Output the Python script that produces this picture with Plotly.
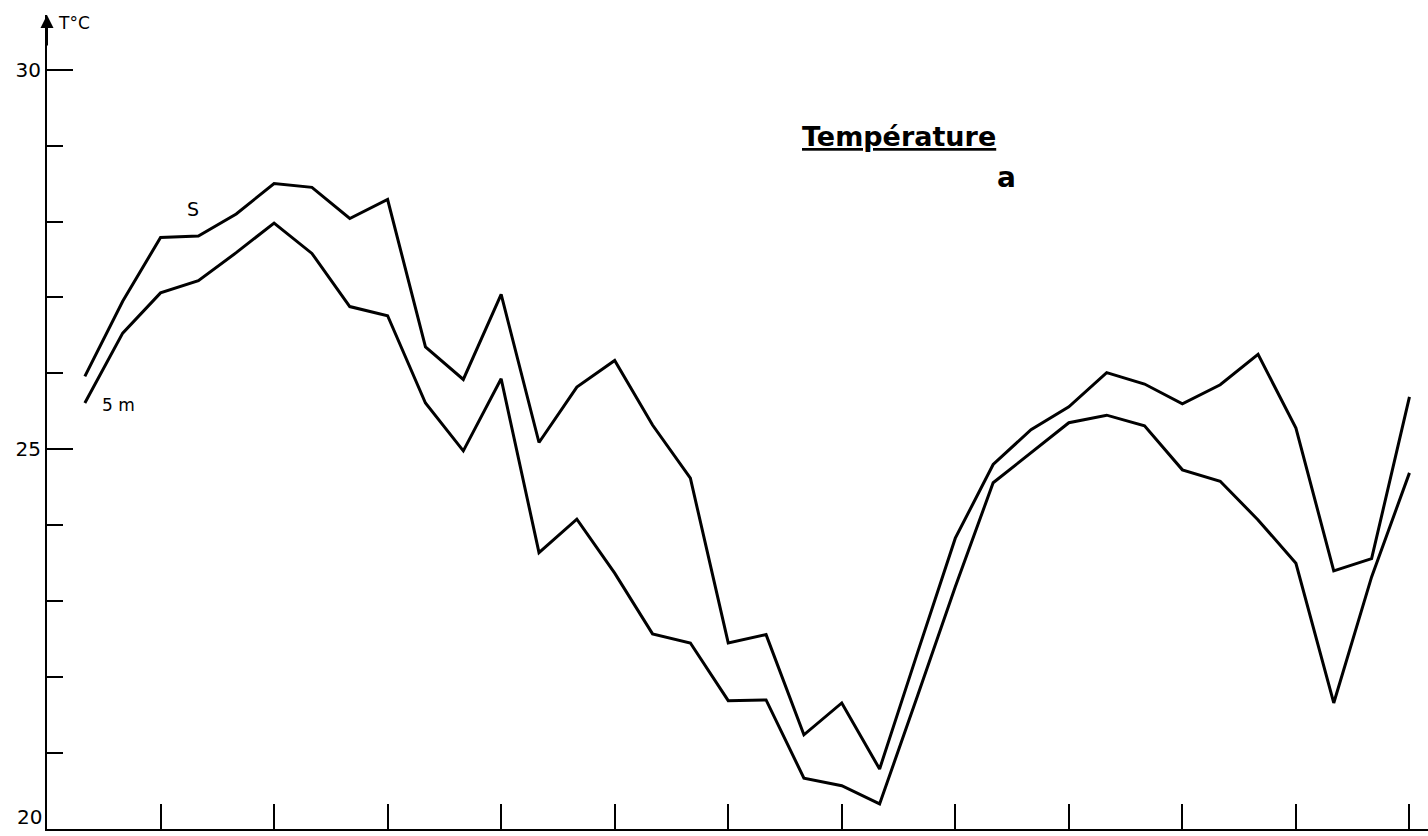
import plotly.graph_objects as go

# Sample index (x positions, 1..36) and temperatures (°C)
idx = list(range(1, 37))
temp_surface = [25.96, 26.95, 27.79, 27.81, 28.10, 28.50, 28.45, 28.04, 28.29, 26.35,
                25.92, 27.04, 25.09, 25.82, 26.17, 25.32, 24.62, 22.45, 22.56, 21.24,
                21.66, 20.79, 22.32, 23.83, 24.80, 25.26, 25.56, 26.01, 25.86, 25.60,
                25.85, 26.25, 25.28, 23.40, 23.56, 25.69]
temp_5m = [25.61, 26.53, 27.06, 27.22, 27.59, 27.98, 27.58, 26.88, 26.76, 25.61,
           24.98, 25.93, 23.64, 24.08, 23.37, 22.57, 22.45, 21.69, 21.70, 20.67,
           20.57, 20.33, 21.75, 23.19, 24.56, 24.95, 25.35, 25.45, 25.31, 24.73,
           24.58, 24.07, 23.50, 21.66, 23.32, 24.69]
x_ticks = list(range(3, 37, 3))
y_major = [20, 25, 30]
y_major_text = ["", "25", "30"]
y_bottom_label = "20"

FONT = "DejaVu Sans"
fig = go.Figure()
fig.add_trace(go.Scatter(x=idx, y=temp_surface, mode="lines", name="S",
                         line=dict(color="black", width=3)))
fig.add_trace(go.Scatter(x=idx, y=temp_5m, mode="lines", name="5 m",
                         line=dict(color="black", width=3)))

fig.update_layout(
    width=1428, height=836,
    margin=dict(l=47, r=0, t=15, b=7, autoexpand=False),
    paper_bgcolor="white", plot_bgcolor="white",
    showlegend=False,
    font=dict(family=FONT, color="black"),
    xaxis=dict(range=[0, 36.49], showgrid=False, zeroline=False,
               showline=True, linecolor="black", linewidth=2,
               tickvals=x_ticks, ticks="inside", ticklen=25, tickwidth=2,
               tickcolor="black", showticklabels=False),
    yaxis=dict(range=[20, 30.72], showgrid=False, zeroline=False,
               showline=True, linecolor="black", linewidth=2,
               tickvals=y_major, ticktext=y_major_text, ticks="inside",
               ticklen=26, tickwidth=2, tickcolor="black",
               tickfont=dict(size=20, family=FONT),
               minor=dict(dtick=1, ticks="inside", ticklen=16, tickwidth=2,
                          tickcolor="black")),
)

# bottom "20" label, lifted so it stays inside the picture
fig.add_annotation(x=0, y=20, xref="x", yref="y", text=y_bottom_label,
                   showarrow=False, xanchor="right", yanchor="bottom",
                   xshift=-3, yshift=-2, font=dict(size=20, family=FONT))
# arrow at top of y-axis
fig.add_annotation(x=0, y=30.72, xref="x", yref="y", ax=0, ay=32, text="",
                   showarrow=True, arrowhead=2, arrowsize=1.3, arrowwidth=2,
                   arrowcolor="black")
fig.add_annotation(x=0.25, y=30.62, xref="x", yref="y", text="T°C",
                   showarrow=False, xanchor="left", yanchor="middle",
                   font=dict(size=17, family=FONT))
fig.add_annotation(x=3.85, y=28.17, xref="x", yref="y", text="S",
                   showarrow=False, font=dict(size=19, family=FONT))
fig.add_annotation(x=1.4, y=25.58, xref="x", yref="y", text="5 m",
                   showarrow=False, xanchor="left", font=dict(size=17, family=FONT))
fig.add_annotation(x=19.9, y=29.12, xref="x", yref="y",
                   text="<b><u>Température</u></b>", showarrow=False,
                   xanchor="left", yanchor="middle", font=dict(size=27, family=FONT))
fig.add_annotation(x=25.05, y=28.58, xref="x", yref="y", text="<b>a</b>",
                   showarrow=False, xanchor="left", yanchor="middle",
                   font=dict(size=28, family=FONT))

fig.write_html("out.html", config={"displayModeBar": False},
               post_script="document.body.style.margin='0';document.body.style.padding='0';")
